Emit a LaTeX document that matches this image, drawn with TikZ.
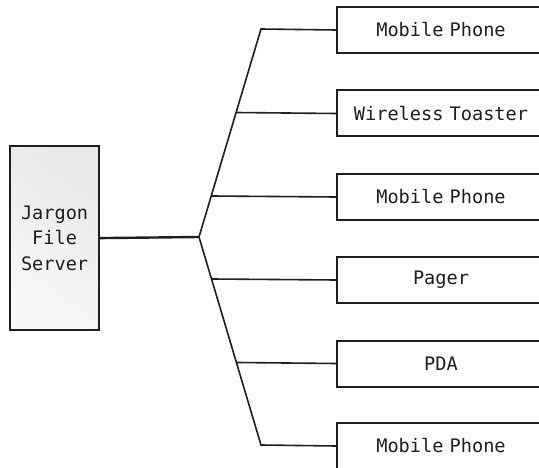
\documentclass[tikz,border=0pt]{standalone}
\usepackage{fontspec}
\setmonofont{DejaVu Sans Mono}
\usetikzlibrary{calc}
\definecolor{ink}{HTML}{1E1E1E}
\begin{document}
\begin{tikzpicture}[x=1pt,y=-1pt,
  lbl/.style={font=\ttfamily\fontsize{18.6}{25.5}\selectfont, text=ink},
  device/.style={lbl, draw=ink, line width=2pt, fill=white,
    minimum width=215pt, minimum height=46pt, inner sep=0pt,
    text width=200pt, align=center, anchor=north west},
  server/.style={lbl, draw=ink, line width=2.2pt, align=center,
    minimum width=89pt, minimum height=184pt, inner sep=0pt,
    top color=gray!18, bottom color=gray!6, shading angle=-35, anchor=north west},
  wire/.style={draw=ink, line width=1.6pt},
  trunk/.style={draw=ink, line width=2.4pt}]
\useasboundingbox (0,0) rectangle (539,468);

% file server
\node[server] (srv) at (9,145) {Jargon\\File\\Server};

% devices, cut by the right edge of the page
\node[device] (d1) at (336,6)   {\hspace*{-7pt}Mobile Phone};
\node[device] (d2) at (336,89.5){\hspace*{-7pt}Wireless Toaster};
\node[device] (d3) at (336,173) {\hspace*{-7pt}Mobile Phone};
\node[device] (d4) at (336,256) {\hspace*{-7pt}Pager};
\node[device] (d5) at (336,339.5){\hspace*{-7pt}PDA};
\node[device] (d6) at (336,422) {\hspace*{-7pt}Mobile Phone};

% bus: hub and the two outer bends
\coordinate (hub) at (199,237);
\coordinate (top) at (261,29);
\coordinate (bot) at (261,445);
\coordinate (j2) at ($(hub)!{124.5/208}!(top)$);
\coordinate (j3) at ($(hub)!{41/208}!(top)$);
\coordinate (j4) at ($(hub)!{42/208}!(bot)$);
\coordinate (j5) at ($(hub)!{125.5/208}!(bot)$);

\draw[trunk] (srv.east) -- (hub);
\draw[wire, line join=miter] (d1.west) -- (top) -- (hub) -- (bot) -- (d6.west);
\draw[wire] (j2) -- (d2.west);
\draw[wire] (j3) -- (d3.west);
\draw[wire] (j4) -- (d4.west);
\draw[wire] (j5) -- (d5.west);
\end{tikzpicture}
\end{document}
